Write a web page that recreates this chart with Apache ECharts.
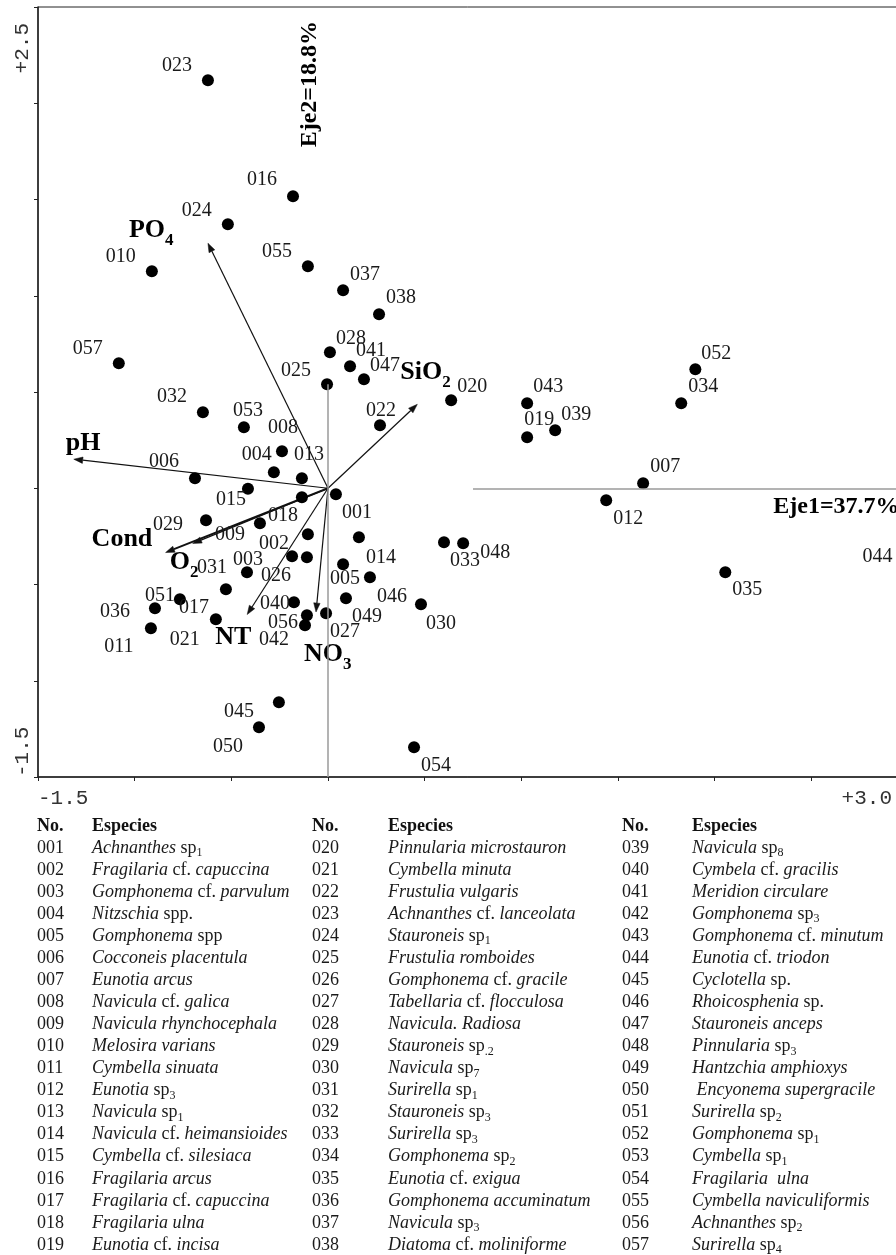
<!DOCTYPE html>
<html>
<head>
<meta charset="utf-8">
<script src="https://cdn.jsdelivr.net/npm/echarts@6/dist/echarts.min.js"></script>
<style>
html,body{margin:0;padding:0;background:#fff;}
#c{width:896px;height:1255px;}
</style>
</head>
<body>
<div id="c"></div>
<script>
// ---------- DATA ----------
const speciesIds = ['001','002','003','004','005','006','007','008','009','010',
  '011','012','013','014','015','016','017','018','019','020',
  '021','022','023','024','025','026','027','028','029','030',
  '031','032','033','034','035','036','037','038','039','040',
  '041','042','043','044','045','046','047','048','049','050',
  '051','052','053','054','055','056','057'];
const axis1 = [0.041,-0.104,-0.186,-0.280,0.078,-0.688,1.630,-0.238,-0.352,-0.911,
  -0.916,1.439,-0.135,0.160,-0.414,-0.181,-0.528,-0.135,1.030,0.637,
  -0.580,0.269,-0.621,-0.518,-0.005,-0.109,-0.010,0.010,-0.631,0.481,
  -0.419,-0.647,0.600,1.827,2.055,-0.895,0.078,0.264,1.175,-0.176,
  0.114,-0.119,1.030,2.987,-0.254,0.217,0.186,0.699,0.093,-0.357,
  -0.766,1.900,-0.435,0.445,-0.104,-0.109,-1.082];
const axis2 = [-0.031,-0.239,-0.353,0.083,-0.395,0.052,0.026,0.192,-0.182,1.127,
  -0.727,-0.062,0.052,-0.255,-0.002,1.517,-0.525,-0.047,0.265,0.457,
  -0.681,0.327,2.119,1.371,0.540,-0.358,-0.649,0.706,-0.166,-0.603,
  -0.436,0.395,-0.281,0.442,-0.436,-0.623,1.029,0.904,0.301,-0.592,
  0.634,-0.712,0.442,-0.358,-1.112,-0.462,0.566,-0.286,-0.571,-1.242,
  -0.577,0.618,0.317,-1.345,1.153,-0.660,0.649];
const envNames = ['PO4','pH','SiO2','Cond','O2','NT','NO3'];
const envX = [-0.621,-1.315,0.462,-0.840,-0.700,-0.418,-0.062];
const envY = [1.273,0.151,0.436,-0.334,-0.287,-0.656,-0.643];
const xTickLabels = ['-1.5','+3.0'];
const yTickLabels = ['-1.5','+2.5'];
const axisTitles = ['Eje1=37.7%','Eje2=18.8%'];
const tableHeader = ['No.','Especies'];
const speciesNames = [
'*Achnanthes* sp_{1}','*Fragilaria* cf. *capuccina*','*Gomphonema* cf. *parvulum*','*Nitzschia* spp.','*Gomphonema* spp',
'*Cocconeis placentula*','*Eunotia arcus*','*Navicula* cf. *galica*','*Navicula rhynchocephala*','*Melosira varians*',
'*Cymbella sinuata*','*Eunotia* sp_{3}','*Navicula* sp_{1}','*Navicula* cf. *heimansioides*','*Cymbella* cf. *silesiaca*',
'*Fragilaria arcus*','*Fragilaria* cf. *capuccina*','*Fragilaria ulna*','*Eunotia* cf. *incisa*',
'*Pinnularia microstauron*','*Cymbella minuta*','*Frustulia vulgaris*','*Achnanthes* cf. *lanceolata*','*Stauroneis* sp_{1}',
'*Frustulia romboides*','*Gomphonema* cf. *gracile*','*Tabellaria* cf. *flocculosa*','*Navicula. Radiosa*','*Stauroneis* sp_{.2}',
'*Navicula* sp_{7}','*Surirella* sp_{1}','*Stauroneis* sp_{3}','*Surirella* sp_{3}','*Gomphonema* sp_{2}',
'*Eunotia* cf. *exigua*','*Gomphonema accuminatum*','*Navicula* sp_{3}','*Diatoma* cf. *moliniforme*',
'*Navicula* sp_{8}','*Cymbela* cf. *gracilis*','*Meridion circulare*','*Gomphonema* sp_{3}','*Gomphonema* cf. *minutum*',
'*Eunotia* cf. *triodon*','*Cyclotella* sp.','*Rhoicosphenia* sp.','*Stauroneis anceps*','*Pinnularia* sp_{3}',
'*Hantzchia amphioxys*','* Encyonema supergracile*','*Surirella* sp_{2}','*Gomphonema* sp_{1}','*Cymbella* sp_{1}',
'*Fragilaria  ulna*','*Cymbella naviculiformis*','*Achnanthes* sp_{2}','*Surirella* sp_{4}'
];

// ---------- LAYOUT (pixel offsets / positions, not data) ----------
const labelOffset = {
 '001':[21,19],'002':[-34,9],'003':[-44,4],'004':[-17,-18],'005':[2,14],'006':[-31,-16],'007':[22,-16],
 '008':[1,-24],'009':[-30,11],'010':[-31,-15],'011':[-32,19],'012':[22,19],'013':[7,-23],'014':[22,20],
 '015':[-17,11],'016':[-31,-16],'017':[-32,18],'018':[-19,18],'019':[12,-17],'020':[21,-14],'021':[-31,20],
 '022':[1,-15],'023':[-31,-15],'024':[-31,-14],'025':[-31,-14],'026':[-31,19],'027':[19,19],'028':[21,-14],
 '029':[-38,5],'030':[20,19],'031':[-35,-4],'032':[-31,-15],'033':[21,18],'034':[22,-16],'035':[22,18],
 '036':[-40,4],'037':[22,-15],'038':[22,-16],'039':[21,-16],'040':[-19,2],'041':[21,-15],'042':[-31,14],
 '043':[21,-16],'044':[-28,0],'045':[-40,9],'046':[22,20],'047':[21,-14],'048':[32,9],'049':[21,19],
 '050':[-31,19],'051':[-20,-4],'052':[21,-16],'053':[4,-16],'054':[22,19],'055':[-31,-15],'056':[-24,7],'057':[-31,-15]
};
const envLabelOffset = [[-79,-13],[-8,-16],[-17,-32],[-74,-13],[-23,19],[-32,23],[-12,42]];
const envLineWidth = [1.2,1.2,1.2,1.9,1.2,1.2,1.2];
const axisTitleAt = [[2.303,-0.094],[-0.093,1.771]];
const tableCols = [{no:37, sp:92},{no:312, sp:388},{no:622, sp:692}];
const tableTop = 826, rowStep = 22.05, rowsPerCol = 19;

// ---------- helpers ----------
const SERIF = '"Liberation Serif","Times New Roman",serif';
const MONO = '"Liberation Mono",monospace';
function envRich(name){
  const m = name.match(/^(.*?)(\d+)$/);
  return m ? '{b|' + m[1] + '}{s|' + m[2] + '}' : '{b|' + name + '}';
}
const envRichStyles = {
  b:{fontFamily:SERIF, fontWeight:'bold', fontSize:26, lineHeight:28, fill:'#000'},
  s:{fontFamily:SERIF, fontWeight:'bold', fontSize:17, lineHeight:20, verticalAlign:'top', padding:[16,0,0,0], fill:'#000'}
};
function speciesRich(str){
  const re = /\*([^*]+)\*|_\{([^}]+)\}|([^*_]+)/g;
  let out = '', m;
  while ((m = re.exec(str))){
    if (m[1] !== undefined) out += '{i|' + m[1] + '}';
    else if (m[2] !== undefined) out += '{s|' + m[2] + '}';
    else out += '{r|' + m[3] + '}';
  }
  return out;
}
const tableRich = {
  i:{fontFamily:SERIF, fontStyle:'italic', fontSize:18, lineHeight:22, fill:'#1a1a1a'},
  r:{fontFamily:SERIF, fontSize:18, lineHeight:22, fill:'#1a1a1a'},
  s:{fontFamily:SERIF, fontSize:12, lineHeight:14, verticalAlign:'top', padding:[10,0,0,0], fill:'#1a1a1a'}
};
const tickRich = {
  e:{fontFamily:MONO, fontSize:21, color:'#333', padding:[0,16,0,0]},
  n:{fontFamily:MONO, fontSize:21, color:'#333'}
};

const chart = echarts.init(document.getElementById('c'), null, {renderer:'canvas'});
const near = (a,b)=>Math.abs(a-b)<1e-9;

const option = {
  animation:false,
  backgroundColor:'#fff',
  grid:{left:38, top:7, width:870, height:770, show:true, borderColor:'#222', borderWidth:1,
        containLabel:false, outerBoundsMode:'none'},
  xAxis:{type:'value', min:-1.5, max:3.0, interval:0.5,
    axisLine:{show:true, onZero:false, lineStyle:{color:'#222', width:1.5}},
    axisTick:{show:true, length:4, inside:false, lineStyle:{color:'#222', width:1}},
    splitLine:{show:false},
    axisLabel:{show:true, margin:11, fontFamily:MONO, fontSize:21, color:'#333', rich:tickRich,
      showMinLabel:true, showMaxLabel:true, alignMinLabel:'left', alignMaxLabel:'right', hideOverlap:false,
      formatter:v => near(v,-1.5) ? '{n|' + xTickLabels[0] + '}' : (near(v,3) ? '{e|' + xTickLabels[1] + '}' : '')}
  },
  yAxis:{type:'value', min:-1.5, max:2.5, interval:0.5,
    axisLine:{show:true, onZero:false, lineStyle:{color:'#222', width:1.5}},
    axisTick:{show:true, length:4, inside:false, lineStyle:{color:'#222', width:1}},
    splitLine:{show:false},
    axisLabel:{show:true, margin:5, rotate:90, fontFamily:MONO, fontSize:21, color:'#333', rich:tickRich,
      showMinLabel:true, showMaxLabel:true, alignMinLabel:'left', alignMaxLabel:'right', hideOverlap:false,
      formatter:v => near(v,-1.5) ? '{n|' + yTickLabels[0] + '}' : (near(v,2.5) ? '{e|' + yTickLabels[1] + '}' : '')}
  },
  series:[
    {type:'line', data:[], z:1, silent:true,
     markLine:{silent:true, symbol:['none','none'], animation:false, label:{show:false},
       lineStyle:{color:'#9a9a9a', width:1.5, type:'solid'},
       emphasis:{disabled:true},
       data:[[{coord:[0,0.54]},{coord:[0,-1.5]}],[{coord:[0.75,0]},{coord:[3,0]}]]}
    },
    {type:'custom', z:2, silent:true, clip:false,
     data: envNames.map((n,i)=>[envX[i], envY[i]]),
     encode:{x:0, y:1},
     renderItem:function(params, api){
       const i = params.dataIndex;
       const o = api.coord([0,0]);
       const p = api.coord([api.value(0), api.value(1)]);
       const ang = Math.atan2(p[1]-o[1], p[0]-o[0]);
       const L = 9, W = 3.2;
       const bx = p[0] - L*Math.cos(ang), by = p[1] - L*Math.sin(ang);
       const nx = -Math.sin(ang)*W, ny = Math.cos(ang)*W;
       const off = envLabelOffset[i];
       return {type:'group', children:[
         {type:'line', shape:{x1:o[0], y1:o[1], x2:bx, y2:by}, style:{stroke:'#111', lineWidth:envLineWidth[i]}},
         {type:'polygon', shape:{points:[[p[0],p[1]],[bx+nx,by+ny],[bx-nx,by-ny]]}, style:{fill:'#111', stroke:'#111', lineWidth:0.5}},
         {type:'text', x:p[0]+off[0], y:p[1]+off[1],
          style:{text:envRich(envNames[i]), rich:envRichStyles, textAlign:'left', textVerticalAlign:'middle',
                 fontFamily:SERIF, fontWeight:'bold', fontSize:26, fill:'#000'}}
       ]};
     }
    },
    {type:'scatter', z:3, silent:true,
     symbol:'circle', symbolSize:12,
     itemStyle:{color:'#000', opacity:1},
     data: speciesIds.map((id,i)=>({name:id, value:[axis1[i], axis2[i]]})),
     label:{show:true, position:'inside', formatter:'{b}', fontFamily:SERIF, fontSize:20, color:'#1a1a1a',
            opacity:1, textBorderWidth:0},
     labelLayout:function(params){
       const off = labelOffset[speciesIds[params.dataIndex]] || [0,0];
       return {dx:off[0], dy:off[1], hideOverlap:false};
     },
     emphasis:{disabled:true}
    }
  ]
};
chart.setOption(option);

// ---------- graphic texts: axis titles + species table ----------
const g = [];
const t1 = chart.convertToPixel({gridIndex:0}, axisTitleAt[0]);
const t2 = chart.convertToPixel({gridIndex:0}, axisTitleAt[1]);
g.push({type:'text', x:t1[0], y:t1[1], silent:true,
  style:{text:axisTitles[0], font:'bold 24px ' + SERIF, fill:'#000', textAlign:'left', textVerticalAlign:'middle'}});
g.push({type:'text', x:t2[0], y:t2[1], rotation:Math.PI/2, silent:true,
  style:{text:axisTitles[1], font:'bold 24px ' + SERIF, fill:'#000', textAlign:'left', textVerticalAlign:'middle'}});

tableCols.forEach((c, ci)=>{
  g.push({type:'text', x:c.no, y:tableTop, silent:true,
    style:{text:tableHeader[0], font:'bold 18px ' + SERIF, fill:'#111', textAlign:'left', textVerticalAlign:'middle'}});
  g.push({type:'text', x:c.sp, y:tableTop, silent:true,
    style:{text:tableHeader[1], font:'bold 18px ' + SERIF, fill:'#111', textAlign:'left', textVerticalAlign:'middle'}});
  for (let r = 0; r < rowsPerCol; r++){
    const k = ci*rowsPerCol + r;
    if (k >= speciesIds.length) break;
    const y = tableTop + rowStep*(r+1);
    g.push({type:'text', x:c.no, y:y, silent:true,
      style:{text:speciesIds[k], font:'18px ' + SERIF, fill:'#1a1a1a', textAlign:'left', textVerticalAlign:'middle'}});
    g.push({type:'text', x:c.sp, y:y, silent:true,
      style:{text:speciesRich(speciesNames[k]), rich:tableRich, font:'18px ' + SERIF, fill:'#1a1a1a',
             textAlign:'left', textVerticalAlign:'middle'}});
  }
});
chart.setOption({graphic:{elements:g}});
</script>
</body>
</html>
